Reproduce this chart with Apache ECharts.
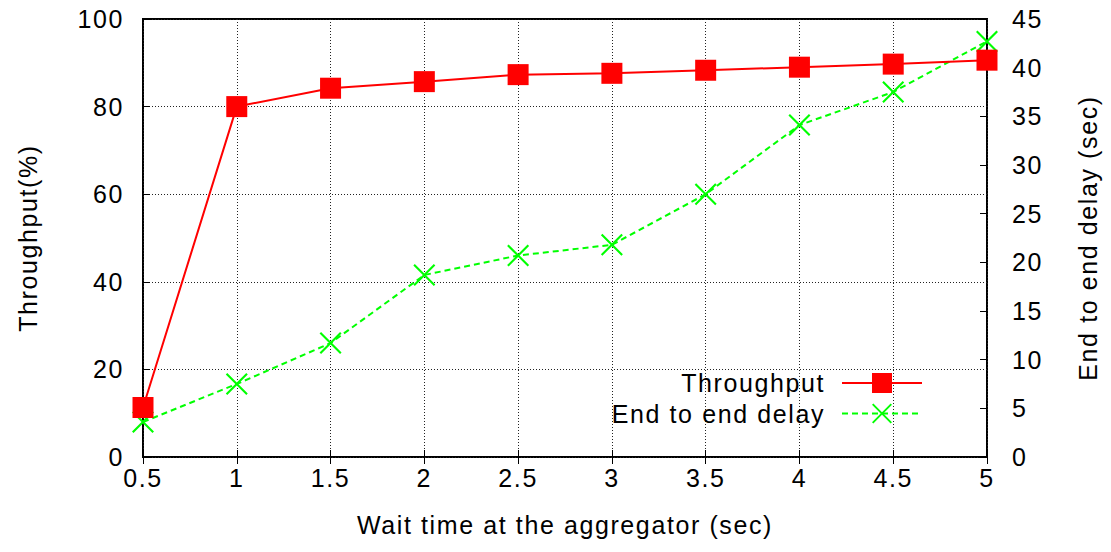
<!DOCTYPE html>
<html>
<head>
<meta charset="utf-8">
<script src="https://cdn.jsdelivr.net/npm/echarts@6/dist/echarts.min.js"></script>
<style>
html,body{margin:0;padding:0;background:#fff;}
#chart{width:1111px;height:552px;}
#chart text{letter-spacing:1.6px;}
</style>
</head>
<body>
<div id="chart"></div>
<script>
const waitTimes = [0.5, 1, 1.5, 2, 2.5, 3, 3.5, 4, 4.5, 5];
const throughput = [11.3, 80.0, 84.2, 85.7, 87.3, 87.6, 88.3, 89.0, 89.7, 90.6];
const delay = [3.6, 7.5, 11.7, 18.7, 20.7, 21.8, 27.0, 34.1, 37.5, 42.7];
const xTicks = { min: 0.5, max: 5, interval: 0.5 };
const leftTicks = { min: 0, max: 100, interval: 20 };
const rightTicks = { min: 0, max: 45, interval: 5 };

const FONT = '"Liberation Sans", Arial, Helvetica, sans-serif';
const FS = 25;
const crossPath = 'path://M0,1.5 L1.5,0 L11,9.5 L20.5,0 L22,1.5 L12.5,11 L22,20.5 L20.5,22 L11,12.5 L1.5,22 L0,20.5 L9.5,11 Z';

const chart = echarts.init(document.getElementById('chart'), null, { renderer: 'svg' });
const tickStyle = { show: true, inside: true, length: 7, lineStyle: { color: '#000', width: 1 } };
const gridLine = { show: true, lineStyle: { color: '#222', width: 1, type: [1, 2] } };
const txt = { fontSize: FS, color: '#000', fontFamily: FONT };

chart.setOption({
  animation: false,
  backgroundColor: '#fff',
  textStyle: { fontFamily: FONT },
  grid: { left: 143, right: 124, top: 19, bottom: 95, show: true, borderColor: '#000', borderWidth: 2, backgroundColor: 'transparent' },
  legend: {
    orient: 'vertical',
    align: 'right',
    right: 188,
    top: 370.5,
    padding: 0,
    itemWidth: 80,
    itemHeight: 25,
    itemGap: 5.5,
    textStyle: Object.assign({}, txt, { padding: [0, 12, 0, 0] }),
    data: ['Throughput', 'End to end delay']
  },
  xAxis: [{
    type: 'value',
    min: xTicks.min, max: xTicks.max, interval: xTicks.interval,
    name: 'Wait time at the aggregator (sec)',
    nameLocation: 'middle',
    nameGap: 55,
    nameTextStyle: txt,
    axisLine: { show: false },
    axisTick: tickStyle,
    axisLabel: Object.assign({}, txt, { margin: 8 }),
    splitLine: gridLine
  }, {
    type: 'value', position: 'top',
    min: xTicks.min, max: xTicks.max, interval: xTicks.interval,
    axisLine: { show: false },
    axisTick: tickStyle,
    axisLabel: { show: false },
    splitLine: { show: false }
  }],
  yAxis: [{
    type: 'value', position: 'left',
    min: leftTicks.min, max: leftTicks.max, interval: leftTicks.interval,
    name: 'Throughput(%)',
    nameLocation: 'middle',
    nameGap: 103,
    nameTextStyle: txt,
    axisLine: { show: false },
    axisTick: tickStyle,
    axisLabel: Object.assign({}, txt, { margin: 19 }),
    splitLine: gridLine
  }, {
    type: 'value', position: 'right',
    min: rightTicks.min, max: rightTicks.max, interval: rightTicks.interval,
    name: 'End to end delay (sec)',
    nameLocation: 'middle',
    nameGap: 88,
    nameTextStyle: txt,
    axisLine: { show: false },
    axisTick: tickStyle,
    axisLabel: Object.assign({}, txt, { margin: 25 }),
    splitLine: { show: false }
  }],
  series: [{
    name: 'Throughput',
    type: 'line',
    xAxisIndex: 0, yAxisIndex: 0,
    clip: false,
    data: waitTimes.map((x, i) => [x, throughput[i]]),
    symbol: 'rect',
    symbolSize: 21,
    lineStyle: { color: '#ff0000', width: 2 },
    itemStyle: { color: '#ff0000' },
    z: 3
  }, {
    name: 'End to end delay',
    type: 'line',
    xAxisIndex: 0, yAxisIndex: 1,
    clip: false,
    data: waitTimes.map((x, i) => [x, delay[i]]),
    symbol: crossPath,
    symbolSize: 22,
    lineStyle: { color: '#00ff00', width: 2, type: [6, 4] },
    itemStyle: { color: '#00ff00' },
    z: 2
  }]
});
</script>
</body>
</html>
